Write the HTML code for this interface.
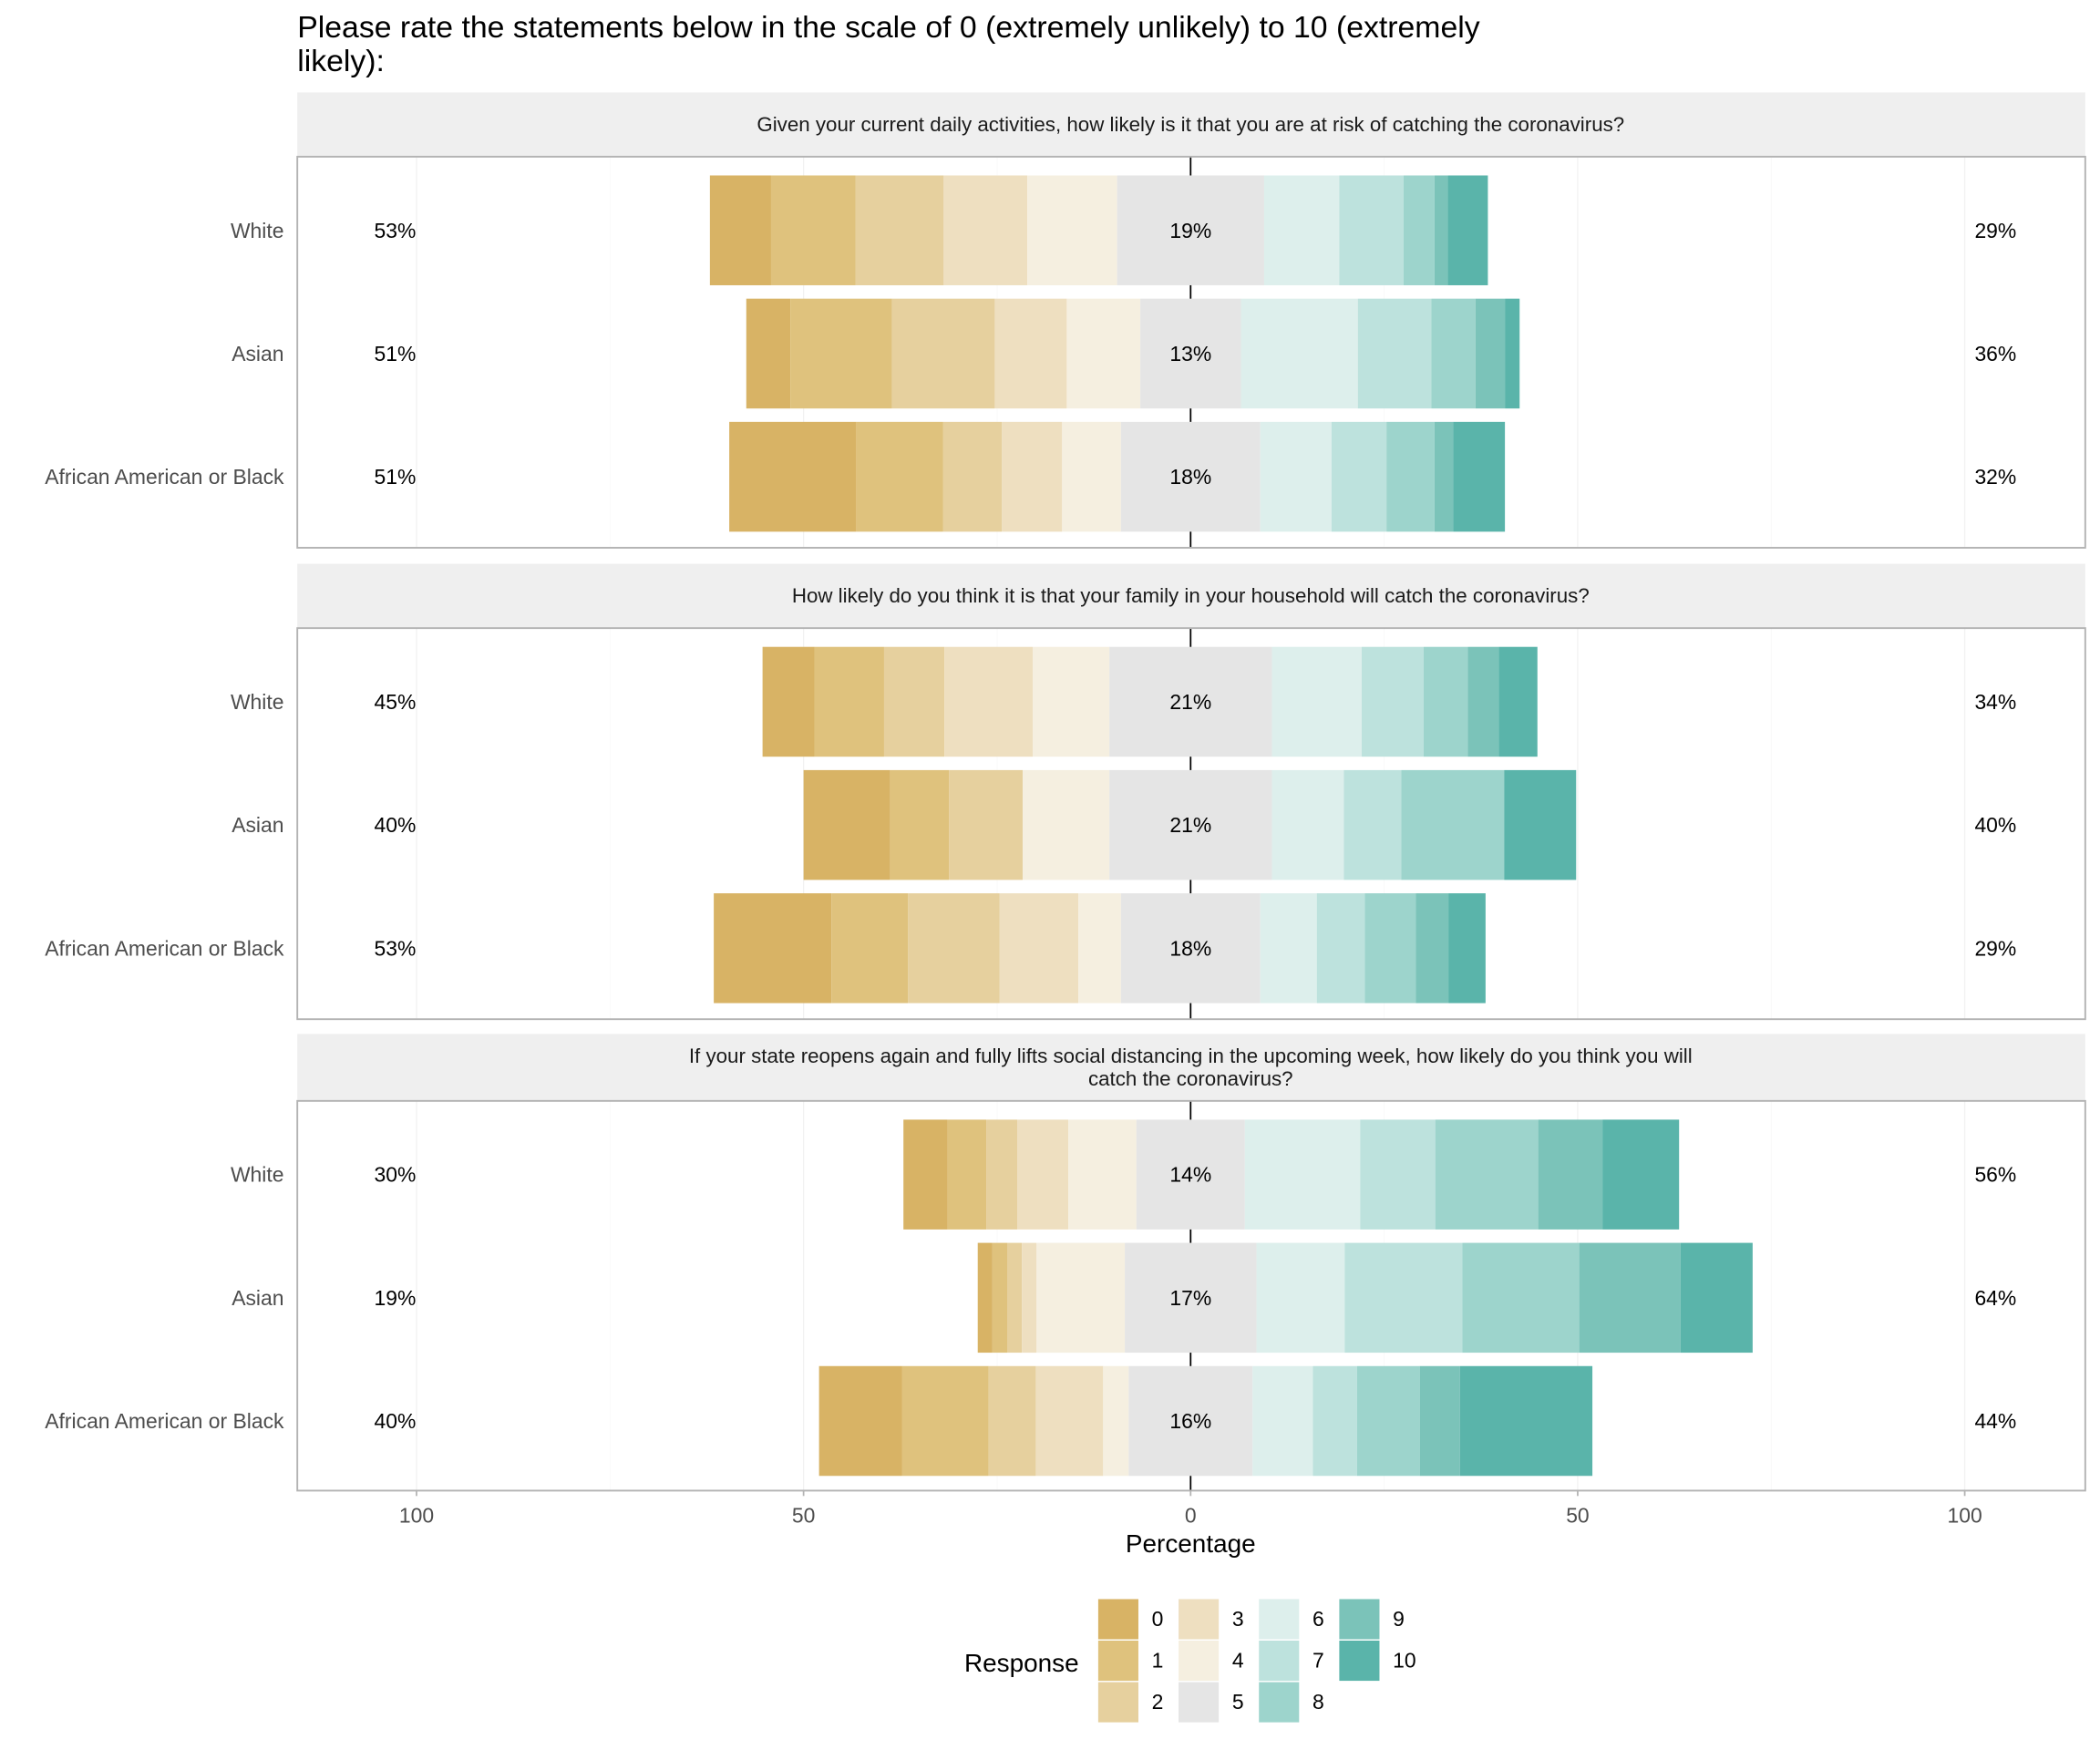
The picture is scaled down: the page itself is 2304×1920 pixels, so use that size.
<!DOCTYPE html>
<html><head><meta charset="utf-8"><style>
html,body{margin:0;padding:0;background:#fff}
svg{display:block}
text{font-family:"Liberation Sans",Arial,sans-serif}
</style></head><body>
<svg id="chart" width="2304" height="1920" viewBox="0 0 1568 1306.67" xmlns="http://www.w3.org/2000/svg">
<text x="222" y="28" font-size="23" fill="#000">Please rate the statements below in the scale of 0 (extremely unlikely) to 10 (extremely</text>
<text x="222" y="53" font-size="23" fill="#000">likely):</text>
<g id="plot"></g>
</svg>
<script>
const questions = [
  ["Given your current daily activities, how likely is it that you are at risk of catching the coronavirus?"],
  ["How likely do you think it is that your family in your household will catch the coronavirus?"],
  ["If your state reopens again and fully lifts social distancing in the upcoming week, how likely do you think you will","catch the coronavirus?"]
];
const groups = ["White","Asian","African American or Black"];
// responses 0..10 per question per group
const values = [
  [[7.9,10.9,11.4,10.8,11.6,19,9.7,8.3,4.0,1.7,5.2],
   [5.7,13.1,13.3,9.3,9.5,13,15.1,9.5,5.7,3.8,1.9],
   [16.4,11.2,7.6,7.8,7.6,18,9.2,7.1,6.2,2.4,6.7]],
  [[6.7,9.0,7.8,11.4,9.9,21,11.6,8.0,5.7,4.0,5.0],
   [11.2,7.6,9.5,0,11.2,21,9.3,7.4,13.3,0,9.3],
   [15.2,9.9,11.8,10.2,5.5,18,7.3,6.2,6.6,4.2,4.8]],
  [[5.7,5.0,4.0,6.6,8.8,14,14.9,9.7,13.3,8.3,9.9],
   [1.9,1.9,1.9,1.9,11.4,17,11.4,15.2,15.1,13.1,9.3],
   [10.7,11.2,6.1,8.7,3.3,16,7.8,5.7,8.1,5.2,17.1]]
];
const lowLabels = [["53%","51%","51%"],["45%","40%","53%"],["30%","19%","40%"]];
const midLabels = [["19%","13%","18%"],["21%","21%","18%"],["14%","17%","16%"]];
const highLabels = [["29%","36%","32%"],["34%","40%","29%"],["56%","64%","44%"]];
const xTicks = [-100,-50,0,50,100];
const xTickLabels = ["100","50","0","50","100"];
const responses = ["0","1","2","3","4","5","6","7","8","9","10"];
const colors = ["#D8B365","#DFC27D","#E6D09E","#EEDFC0","#F5EFE0","#E5E5E5","#DDEFEC","#BDE2DD","#9DD4CC","#7BC3B9","#5AB4AA"];

const NS="http://www.w3.org/2000/svg";
const root=document.getElementById('plot');
function mk(tag,attrs,parent,txt){const e=document.createElementNS(NS,tag);for(const k in attrs)e.setAttribute(k,attrs[k]);if(txt!==undefined)e.textContent=txt;(parent||root).appendChild(e);return e;}
const X0=222,X1=1557;
const x=v=>889+v*5.78;
const panels=[{strip:69,top:117,bot:409},{strip:421,top:469,bot:761},{strip:772,top:822,bot:1113}];
panels.forEach((p,qi)=>{
  const g=mk('g',{});
  
  
  const st=mk('rect',{x:X0,y:p.strip,width:X1-X0,height:p.top-p.strip,fill:'#EFEFEF'},g);
  
  
  const lines=questions[qi];
  lines.forEach((l,li)=>{
    const t=mk('text',{x:889,y:(p.strip+p.top)/2+5+(li-(lines.length-1)/2)*17,'text-anchor':'middle','font-size':15.2,fill:'#1a1a1a'},g,l);
    
    
  });
  [-75,-25,25,75].forEach(v=>mk('line',{x1:x(v),x2:x(v),y1:p.top,y2:p.bot,stroke:'#F8F8F8','stroke-width':0.5},g));
  [-100,-50,50,100].forEach(v=>mk('line',{x1:x(v),x2:x(v),y1:p.top,y2:p.bot,stroke:'#F2F2F2','stroke-width':0.9},g));
  mk('line',{x1:x(0),x2:x(0),y1:p.top,y2:p.bot,stroke:'#000','stroke-width':1.2},g);
  groups.forEach((gn,gi)=>{
    const cy=p.top+55+92*gi;
    const vals=values[qi][gi];
    let left=-(vals[0]+vals[1]+vals[2]+vals[3]+vals[4]+vals[5]/2);
    vals.forEach((v,ri)=>{
      const r=mk('rect',{x:x(left),y:cy-41,width:Math.max(0,v*5.78),height:82,fill:colors[ri]},g);
      
      
      left+=v;
    });
    const yl=mk('text',{x:212,y:cy+5.5,'text-anchor':'end','font-size':15.6,fill:'#4D4D4D'},g,gn);
    
    
    const a=mk('text',{x:295,y:cy+5.5,'text-anchor':'middle','font-size':15.6,fill:'#000'},g,lowLabels[qi][gi]);
    
    
    const b=mk('text',{x:889,y:cy+5.5,'text-anchor':'middle','font-size':15.6,fill:'#000'},g,midLabels[qi][gi]);
    
    
    const c=mk('text',{x:1490,y:cy+5.5,'text-anchor':'middle','font-size':15.6,fill:'#000'},g,highLabels[qi][gi]);
    
    
  });
  mk('rect',{x:X0,y:p.top,width:X1-X0,height:p.bot-p.top,fill:'none',stroke:'#B3B3B3','stroke-width':1.3},g);
});
xTicks.forEach((v,i)=>{
  mk('line',{x1:x(v),x2:x(v),y1:1113,y2:1117,stroke:'#B3B3B3','stroke-width':1.2});
  const t=mk('text',{x:x(v),y:1137,'text-anchor':'middle','font-size':15.6,fill:'#4D4D4D'},root,xTickLabels[i]);
  
  
});
const xt=mk('text',{x:889,y:1159,'text-anchor':'middle','font-size':19,fill:'#000'},root,'Percentage');


const lt=mk('text',{x:720,y:1248,'font-size':19,fill:'#000'},root,'Response');


responses.forEach((r,i)=>{
  const col=Math.floor(i/3),row=i%3;
  const lx=820+col*60,ly=1194+row*31;
  const g=mk('g',{});
  
  
  mk('rect',{x:lx,y:ly,width:30,height:30,fill:colors[i]},g);
  mk('text',{x:lx+40,y:ly+20,'font-size':15.6,fill:'#000'},g,r);
});
</script>
</body></html>
